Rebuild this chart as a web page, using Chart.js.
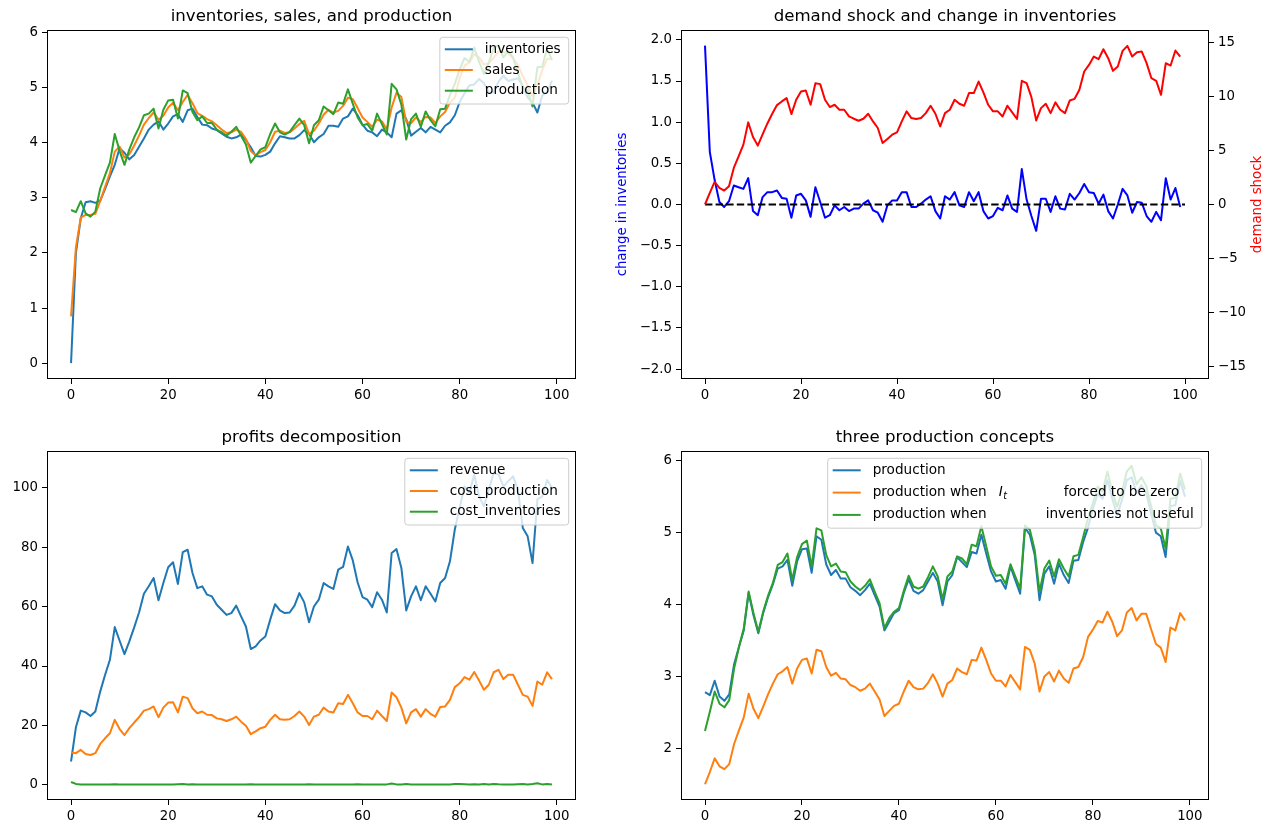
<!DOCTYPE html>
<html>
<head>
<meta charset="utf-8">
<script src="https://cdn.jsdelivr.net/npm/chart.js@4.4.1/dist/chart.umd.min.js"></script>
<style>
  html, body { margin: 0; padding: 0; background: #fff; }
  #fig { position: relative; width: 1277px; height: 834px; overflow: hidden; background: #fff; }
  #fig canvas { position: absolute; }
</style>
</head>
<body>
<div id="fig">
  <canvas id="c1" width="638" height="417" style="left:0px;top:0px"></canvas>
  <canvas id="c2" width="677" height="417" style="left:600px;top:0px"></canvas>
  <canvas id="c3" width="638" height="417" style="left:0px;top:417px"></canvas>
  <canvas id="c4" width="677" height="417" style="left:600px;top:417px"></canvas>
</div>
<script>
// time index 0..99
const periods = Array.from({ length: 100 }, (_, i) => i);

const inventories = [
  0, 2.0, 2.63, 2.92, 2.94, 2.91, 2.95, 3.16, 3.39, 3.6,
  3.9, 3.82, 3.7, 3.78, 3.93, 4.08, 4.24, 4.33, 4.39, 4.24,
  4.35, 4.48, 4.52, 4.38, 4.59, 4.62, 4.47, 4.33, 4.32, 4.26,
  4.23, 4.17, 4.11, 4.08, 4.1, 4.15, 4.05, 3.92, 3.76, 3.75,
  3.78, 3.84, 3.99, 4.12, 4.1, 4.08, 4.08, 4.14, 4.23, 4.16,
  4.01, 4.1, 4.16, 4.31, 4.31, 4.29, 4.44, 4.48, 4.62, 4.5,
  4.33, 4.22, 4.19, 4.12, 4.24, 4.19, 4.1, 4.53, 4.59, 4.43,
  4.13, 4.2, 4.27, 4.19, 4.29, 4.24, 4.19, 4.31, 4.37, 4.5,
  4.74, 4.9, 5.04, 5.06, 5.16, 5.08, 4.92, 4.92, 5.11, 5.22,
  5.12, 5.15, 5.17, 5.03, 4.82, 4.73, 4.55, 4.86, 4.92, 5.13
];

const sales = [
  0.85, 2.1, 2.64, 2.69, 2.69, 2.71, 2.94, 3.2, 3.45, 3.84,
  3.93, 3.73, 3.79, 3.95, 4.13, 4.33, 4.45, 4.55, 4.42, 4.49,
  4.64, 4.73, 4.59, 4.74, 4.87, 4.72, 4.54, 4.49, 4.43, 4.39,
  4.32, 4.24, 4.18, 4.19, 4.24, 4.2, 4.07, 3.85, 3.77, 3.83,
  3.87, 4.01, 4.2, 4.22, 4.18, 4.19, 4.26, 4.34, 4.4, 4.16,
  4.22, 4.35, 4.51, 4.6, 4.55, 4.58, 4.67, 4.82, 4.79, 4.63,
  4.46, 4.38, 4.29, 4.42, 4.39, 4.24, 4.64, 4.91, 4.83, 4.38,
  4.36, 4.46, 4.38, 4.47, 4.46, 4.36, 4.48, 4.56, 4.73, 4.82,
  5.18, 5.4, 5.46, 5.61, 5.55, 5.42, 5.45, 5.54, 5.66, 5.65,
  5.63, 5.53, 5.41, 5.21, 5.04, 4.85, 5.05, 5.32, 5.52, 5.53
];

const production = [
  2.78, 2.74, 2.94, 2.72, 2.66, 2.75, 3.17, 3.41, 3.64, 4.16,
  3.85, 3.6, 3.88, 4.1, 4.28, 4.5, 4.53, 4.62, 4.26, 4.6,
  4.77, 4.78, 4.44, 4.95, 4.9, 4.56, 4.41, 4.48, 4.36, 4.36,
  4.24, 4.19, 4.13, 4.2, 4.29, 4.13, 3.97, 3.64, 3.76, 3.88,
  3.92, 4.16, 4.35, 4.19, 4.15, 4.2, 4.32, 4.44, 4.32, 3.99,
  4.32, 4.41, 4.66, 4.59, 4.52, 4.73, 4.71, 4.97, 4.71, 4.46,
  4.32, 4.34, 4.22, 4.53, 4.34, 4.15, 5.07, 4.97, 4.69, 4.06,
  4.43, 4.53, 4.29, 4.57, 4.41, 4.3, 4.61, 4.62, 4.87, 5.07,
  5.33, 5.54, 5.47, 5.73, 5.47, 5.25, 5.45, 5.73, 5.77, 5.55,
  5.66, 5.55, 5.27, 5.0, 4.95, 4.66, 5.37, 5.38, 5.72, 5.5
];

const changeInventories = [
  1.93, 0.64, 0.3, 0.03, -0.03, 0.04, 0.23, 0.21, 0.19, 0.32,
  -0.08, -0.13, 0.09, 0.15, 0.15, 0.17, 0.08, 0.07, -0.16, 0.11,
  0.13, 0.05, -0.15, 0.21, 0.03, -0.16, -0.13, -0.01, -0.07, -0.03,
  -0.08, -0.05, -0.05, 0.01, 0.05, -0.07, -0.1, -0.21, -0.01, 0.05,
  0.05, 0.15, 0.15, -0.03, -0.03, 0.01, 0.06, 0.1, -0.08, -0.17,
  0.1, 0.06, 0.15, -0.01, -0.03, 0.15, 0.04, 0.15, -0.08, -0.17,
  -0.14, -0.04, -0.07, 0.11, -0.05, -0.09, 0.43, 0.06, -0.14, -0.32,
  0.07, 0.07, -0.09, 0.1, -0.05, -0.06, 0.13, 0.06, 0.14, 0.25,
  0.15, 0.14, 0.01, 0.12, -0.08, -0.17, 0, 0.19, 0.11, -0.1,
  0.03, 0.02, -0.14, -0.21, -0.09, -0.19, 0.32, 0.06, 0.2, -0.03
];

const demandShock = [
  0, 1.08, 2.09, 1.54, 1.29, 1.69, 3.38, 4.46, 5.54, 7.6,
  6.25, 5.45, 6.5, 7.5, 8.4, 9.2, 9.54, 9.85, 8.37, 9.69,
  10.46, 10.55, 9.23, 11.23, 11.14, 9.69, 9.02, 9.23, 8.77, 8.77,
  8.15, 7.94, 7.75, 7.94, 8.4, 7.69, 7.08, 5.69, 6.06, 6.46,
  6.68, 7.69, 8.62, 8.0, 7.91, 8.0, 8.46, 9.14, 8.4, 7.23,
  8.46, 8.77, 9.69, 9.32, 9.14, 10.31, 10.31, 11.38, 10.37, 9.23,
  8.62, 8.62, 8.15, 9.14, 8.52, 7.91, 11.45, 11.23, 9.94, 7.78,
  8.92, 9.32, 8.46, 9.45, 8.77, 8.46, 9.63, 9.78, 10.62, 12.31,
  12.92, 13.69, 13.45, 14.37, 13.54, 12.37, 12.77, 14.22, 14.68, 13.69,
  14.09, 14.15, 13.08, 11.69, 11.45, 10.15, 13.08, 12.86, 14.25, 13.69
];

const zeroLineX = [0, 100];
const zeroLineY = [0, 0];

const revenue = [
  7.9, 19.4, 25.0, 24.4, 23.2, 24.7, 31.4, 37.0, 42.1, 53.1,
  48.5, 44.0, 48.3, 53.0, 58.0, 64.3, 66.8, 69.6, 62.1, 67.9,
  73.2, 74.9, 67.6, 78.3, 79.1, 71.3, 66.2, 66.8, 64.0, 63.4,
  60.6, 58.9, 57.2, 57.8, 60.3, 56.7, 53.3, 45.7, 46.6, 48.6,
  49.9, 55.6, 60.8, 58.7, 57.8, 58.0, 60.3, 64.5, 61.4, 54.7,
  60.0, 62.3, 67.9, 66.8, 65.9, 72.4, 73.3, 80.2, 75.5, 68.1,
  63.2, 62.3, 59.8, 64.8, 62.3, 58.0, 78.0, 79.3, 73.0, 58.7,
  63.4, 66.8, 62.1, 66.8, 64.3, 61.7, 67.9, 69.6, 75.2, 85.9,
  93.2, 100.4, 98.2, 104.4, 97.1, 93.7, 99.3, 104.9, 104.4, 100.4,
  102.1, 103.8, 99.3, 86.4, 83.6, 74.6, 96.0, 97.0, 102.5, 100.0
];

const costProduction = [
  10.9, 10.7, 11.8, 10.4, 10.1, 10.7, 13.8, 15.7, 17.4, 21.9,
  18.8, 16.8, 19.1, 21.0, 22.8, 25.0, 25.5, 26.4, 22.8, 26.0,
  27.7, 27.8, 24.4, 29.7, 29.2, 25.8, 24.1, 24.7, 23.6, 23.5,
  22.4, 22.1, 21.5, 22.1, 23.0, 21.3, 19.9, 17.1, 18.0, 19.1,
  19.6, 21.9, 23.6, 22.1, 21.9, 22.1, 23.2, 24.7, 23.0, 20.2,
  23.0, 23.6, 26.0, 24.7, 24.4, 27.5, 27.2, 30.3, 27.5, 24.4,
  23.2, 23.2, 22.1, 25.0, 23.2, 21.5, 31.1, 29.5, 26.0, 20.7,
  24.4, 25.5, 23.0, 25.5, 23.9, 23.0, 26.2, 26.4, 28.6, 32.9,
  34.2, 36.3, 35.4, 38.0, 35.1, 32.0, 33.7, 37.9, 38.7, 35.6,
  37.1, 37.1, 33.7, 30.3, 29.7, 26.6, 34.8, 33.7, 37.9, 35.6
];

const costInventories = [
  1.0, 0.35, 0.2, 0.2, 0.2, 0.2, 0.2, 0.2, 0.2, 0.25,
  0.2, 0.2, 0.2, 0.2, 0.2, 0.2, 0.2, 0.2, 0.2, 0.2,
  0.2, 0.2, 0.25, 0.3, 0.2, 0.25, 0.2, 0.2, 0.2, 0.2,
  0.2, 0.2, 0.2, 0.2, 0.2, 0.2, 0.2, 0.25, 0.2, 0.2,
  0.2, 0.2, 0.2, 0.2, 0.2, 0.2, 0.2, 0.2, 0.2, 0.25,
  0.2, 0.2, 0.2, 0.2, 0.2, 0.2, 0.2, 0.2, 0.2, 0.25,
  0.2, 0.2, 0.2, 0.2, 0.2, 0.2, 0.5, 0.2, 0.2, 0.3,
  0.2, 0.2, 0.2, 0.2, 0.2, 0.2, 0.2, 0.2, 0.2, 0.3,
  0.3, 0.25, 0.2, 0.25, 0.2, 0.3, 0.2, 0.35, 0.25, 0.2,
  0.2, 0.2, 0.25, 0.3, 0.2, 0.3, 0.55, 0.2, 0.35, 0.2
];

const productionZeroInv = [
  1.5, 1.67, 1.86, 1.75, 1.71, 1.78, 2.06, 2.25, 2.43, 2.76,
  2.55, 2.42, 2.58, 2.75, 2.9, 3.03, 3.07, 3.13, 2.9, 3.11,
  3.23, 3.25, 3.04, 3.37, 3.35, 3.13, 3.01, 3.05, 2.97, 2.96,
  2.88, 2.85, 2.8, 2.83, 2.9, 2.79, 2.68, 2.45, 2.52, 2.59,
  2.62, 2.79, 2.94, 2.85, 2.82, 2.83, 2.91, 3.03, 2.9, 2.72,
  2.9, 2.95, 3.11, 3.06, 3.03, 3.23, 3.22, 3.4, 3.23, 3.04,
  2.94, 2.94, 2.86, 3.02, 2.92, 2.82, 3.41, 3.37, 3.18, 2.79,
  3.0, 3.06, 2.93, 3.08, 2.97, 2.91, 3.11, 3.13, 3.27, 3.55,
  3.65, 3.77, 3.75, 3.9, 3.76, 3.56, 3.64, 3.89, 3.95, 3.78,
  3.87, 3.87, 3.66, 3.45, 3.4, 3.2, 3.68, 3.64, 3.88, 3.78
];

const productionNoInv = [
  2.24, 2.51, 2.79, 2.62, 2.57, 2.67, 3.11, 3.41, 3.67, 4.18,
  3.88, 3.62, 3.9, 4.12, 4.3, 4.55, 4.59, 4.71, 4.34, 4.66,
  4.84, 4.89, 4.53, 5.06, 5.03, 4.69, 4.53, 4.57, 4.46, 4.45,
  4.32, 4.25, 4.2, 4.26, 4.35, 4.18, 4.02, 3.67, 3.81, 3.9,
  3.95, 4.19, 4.4, 4.25, 4.22, 4.25, 4.38, 4.53, 4.39, 4.07,
  4.39, 4.46, 4.67, 4.64, 4.56, 4.83, 4.81, 5.09, 4.81, 4.53,
  4.4, 4.41, 4.29, 4.56, 4.39, 4.22, 5.1, 5.04, 4.76, 4.18,
  4.5, 4.61, 4.39, 4.63, 4.5, 4.39, 4.67, 4.69, 4.94, 5.2,
  5.41, 5.64, 5.57, 5.85, 5.57, 5.36, 5.57, 5.85, 5.93, 5.67,
  5.77, 5.65, 5.37, 5.1, 5.06, 4.78, 5.47, 5.48, 5.82, 5.6
];

const xTicks = [0, 20, 40, 60, 80, 100];
const yTicksTop = [0, 1, 2, 3, 4, 5, 6];
const yTicksChange = [-2.0, -1.5, -1.0, -0.5, 0.0, 0.5, 1.0, 1.5, 2.0];
const yTicksShock = [-15, -10, -5, 0, 5, 10, 15];
const yTicksProfit = [0, 20, 40, 60, 80, 100];
const yTicksProd = [2, 3, 4, 5, 6];

const C_BLUE = '#1f77b4', C_ORANGE = '#ff7f0e', C_GREEN = '#2ca02c';
const FONT = '"DejaVu Sans", sans-serif';
const LEGEND_FONT = '13.6px ';

Chart.defaults.font.family = FONT;
Chart.defaults.font.size = 13.3;
Chart.defaults.color = '#000';

const minus = s => String(s).replace('-', '\u2212');

function pts(xs, ys) {
  return ys.map((y, i) => ({ x: xs[i], y: y }));
}

function line(label, xs, ys, color, order, extra) {
  return Object.assign({
    label: label,
    data: pts(xs, ys),
    borderColor: color,
    backgroundColor: color,
    borderWidth: 2,
    pointRadius: 0,
    pointHoverRadius: 0,
    tension: 0,
    fill: false,
    borderJoinStyle: 'round',
    order: order
  }, extra || {});
}

function axis(opts) {
  const horizontal = opts.horizontal;
  return {
    type: 'linear',
    position: opts.position,
    min: opts.min,
    max: opts.max,
    afterBuildTicks: s => { s.ticks = opts.ticks.map(v => ({ value: v })); },
    afterFit: s => {
      if (horizontal) s.height = opts.size; else s.width = opts.size;
    },
    grid: { drawOnChartArea: false, drawTicks: true, tickLength: 5, tickColor: '#000', tickWidth: 1 },
    border: { display: false },
    ticks: {
      padding: 4,
      autoSkip: false,
      maxRotation: 0,
      color: '#000',
      font: { size: 13.3 },
      callback: opts.format || (v => minus(v))
    }
  };
}

function drawLegend(ctx, a, lg) {
  ctx.font = LEGEND_FONT + FONT;
  let textW = 0;
  lg.items.forEach(it => {
    it.parts.forEach(p => {
      textW = Math.max(textW, p.dx + ctx.measureText(p.text).width + (p.sub ? 6 : 0));
    });
  });
  const w = 45 + textW + 8;
  const h = 25.3 + (lg.items.length - 1) * lg.gap;
  const x0 = a.right - 7.3 - w;
  const y0 = a.top + 7.3;
  ctx.beginPath();
  if (ctx.roundRect) ctx.roundRect(x0, y0, w, h, 3); else ctx.rect(x0, y0, w, h);
  ctx.fillStyle = 'rgba(255,255,255,0.8)';
  ctx.fill();
  ctx.strokeStyle = '#cccccc';
  ctx.lineWidth = 1;
  ctx.stroke();
  lg.items.forEach((it, i) => {
    const y = y0 + 12 + i * lg.gap;
    ctx.beginPath();
    ctx.strokeStyle = it.color;
    ctx.lineWidth = 2;
    ctx.moveTo(x0 + 5, y);
    ctx.lineTo(x0 + 33, y);
    ctx.stroke();
    ctx.fillStyle = '#000';
    ctx.textBaseline = 'middle';
    ctx.textAlign = 'left';
    it.parts.forEach(p => {
      const tx = x0 + 45 + p.dx;
      if (p.italic) {
        ctx.font = 'italic ' + LEGEND_FONT + FONT;
        ctx.fillText(p.text, tx, y);
        const iw = ctx.measureText(p.text).width;
        if (p.sub) {
          ctx.font = 'italic 9.6px ' + FONT;
          ctx.fillText(p.sub, tx + iw + 0.5, y + 4);
        }
        ctx.font = LEGEND_FONT + FONT;
      } else {
        ctx.fillText(p.text, tx, y);
      }
    });
  });
}

function decor(cfg) {
  return {
    id: 'decor',
    afterDatasetsDraw(chart) {
      const ctx = chart.ctx, a = chart.chartArea;
      ctx.save();
      // frame (all four spines)
      ctx.strokeStyle = '#000';
      ctx.lineWidth = 1;
      ctx.strokeRect(Math.round(a.left) + 0.5, Math.round(a.top) + 0.5,
        Math.round(a.right - a.left) - 1, Math.round(a.bottom - a.top) - 1);
      // title
      ctx.fillStyle = '#000';
      ctx.font = '16.6px ' + FONT;
      ctx.textAlign = 'center';
      ctx.textBaseline = 'alphabetic';
      ctx.fillText(cfg.title, (a.left + a.right) / 2, a.top - 9);
      // axis labels
      (cfg.yLabels || []).forEach(l => {
        ctx.save();
        ctx.translate(l.x, (a.top + a.bottom) / 2);
        ctx.rotate(-Math.PI / 2);
        ctx.fillStyle = l.color;
        ctx.font = '13.3px ' + FONT;
        ctx.textAlign = 'center';
        ctx.textBaseline = 'middle';
        ctx.fillText(l.text, 0, 0);
        ctx.restore();
      });
      if (cfg.legend) drawLegend(ctx, a, cfg.legend);
      ctx.restore();
    }
  };
}

function baseOptions(scales, pad) {
  return {
    responsive: false,
    animation: false,
    events: [],
    layout: { padding: pad },
    plugins: { legend: { display: false }, tooltip: { enabled: false }, title: { display: false } },
    scales: scales
  };
}

// panel 1: inventories, sales, and production
new Chart(document.getElementById('c1'), {
  type: 'line',
  data: {
    datasets: [
      line('inventories', periods, inventories, C_BLUE, 3),
      line('sales', periods, sales, C_ORANGE, 2),
      line('production', periods, production, C_GREEN, 1)
    ]
  },
  options: baseOptions({
    x: axis({ horizontal: true, position: 'bottom', min: -4.95, max: 103.95, ticks: xTicks, size: 38 }),
    y: axis({ position: 'left', min: -0.288, max: 6.048, ticks: yTicksTop, size: 47 })
  }, { top: 30, right: 62, bottom: 0, left: 0 }),
  plugins: [decor({
    title: 'inventories, sales, and production',
    legend: {
      gap: 20.7,
      items: [
        { color: C_BLUE, parts: [{ text: 'inventories', dx: 0 }] },
        { color: C_ORANGE, parts: [{ text: 'sales', dx: 0 }] },
        { color: C_GREEN, parts: [{ text: 'production', dx: 0 }] }
      ]
    }
  })]
});

// panel 2: demand shock and change in inventories
new Chart(document.getElementById('c2'), {
  type: 'line',
  data: {
    datasets: [
      line('change in inventories', periods, changeInventories, '#0000ff', 3, { yAxisID: 'yL' }),
      line('zero', zeroLineX, zeroLineY, '#000000', 2, { yAxisID: 'yL', borderDash: [7.4, 3.2], borderJoinStyle: 'miter' }),
      line('demand shock', periods, demandShock, '#ff0000', 1, { yAxisID: 'yR' })
    ]
  },
  options: baseOptions({
    x: axis({ horizontal: true, position: 'bottom', min: -5, max: 105, ticks: xTicks, size: 38 }),
    yL: axis({ position: 'left', min: -2.12, max: 2.12, ticks: yTicksChange, size: 81,
      format: v => minus(Number(v).toFixed(1)) }),
    yR: axis({ position: 'right', min: -16.15, max: 16.15, ticks: yTicksShock, size: 68 })
  }, { top: 30, right: 0, bottom: 0, left: 0 }),
  plugins: [decor({
    title: 'demand shock and change in inventories',
    yLabels: [
      { text: 'change in inventories', color: '#0000ff', x: 23 },
      { text: 'demand shock', color: '#ff0000', x: 658 }
    ]
  })]
});

// panel 3: profits decomposition
new Chart(document.getElementById('c3'), {
  type: 'line',
  data: {
    datasets: [
      line('revenue', periods, revenue, C_BLUE, 3),
      line('cost_production', periods, costProduction, C_ORANGE, 2),
      line('cost_inventories', periods, costInventories, C_GREEN, 1)
    ]
  },
  options: baseOptions({
    x: axis({ horizontal: true, position: 'bottom', min: -4.95, max: 103.95, ticks: xTicks, size: 34 }),
    y: axis({ position: 'left', min: -5.05, max: 112.3, ticks: yTicksProfit, size: 47 })
  }, { top: 34, right: 62, bottom: 0, left: 0 }),
  plugins: [decor({
    title: 'profits decomposition',
    legend: {
      gap: 20.7,
      items: [
        { color: C_BLUE, parts: [{ text: 'revenue', dx: 0 }] },
        { color: C_ORANGE, parts: [{ text: 'cost_production', dx: 0 }] },
        { color: C_GREEN, parts: [{ text: 'cost_inventories', dx: 0 }] }
      ]
    }
  })]
});

// panel 4: three production concepts
new Chart(document.getElementById('c4'), {
  type: 'line',
  data: {
    datasets: [
      line('production', periods, production, C_BLUE, 3),
      line('production when I_t forced to be zero', periods, productionZeroInv, C_ORANGE, 2),
      line('production when inventories not useful', periods, productionNoInv, C_GREEN, 1)
    ]
  },
  options: baseOptions({
    x: axis({ horizontal: true, position: 'bottom', min: -4.95, max: 103.95, ticks: xTicks, size: 34 }),
    y: axis({ position: 'left', min: 1.281, max: 6.135, ticks: yTicksProd, size: 81 })
  }, { top: 34, right: 68, bottom: 0, left: 0 }),
  plugins: [decor({
    title: 'three production concepts',
    legend: {
      gap: 22.3,
      items: [
        { color: C_BLUE, parts: [{ text: 'production', dx: 0 }] },
        { color: C_ORANGE, parts: [
          { text: 'production when', dx: 0 },
          { text: 'I', dx: 126, italic: true, sub: 't' },
          { text: 'forced to be zero', dx: 191 }
        ] },
        { color: C_GREEN, parts: [
          { text: 'production when', dx: 0 },
          { text: 'inventories not useful', dx: 173 }
        ] }
      ]
    }
  })]
});
</script>
</body>
</html>
